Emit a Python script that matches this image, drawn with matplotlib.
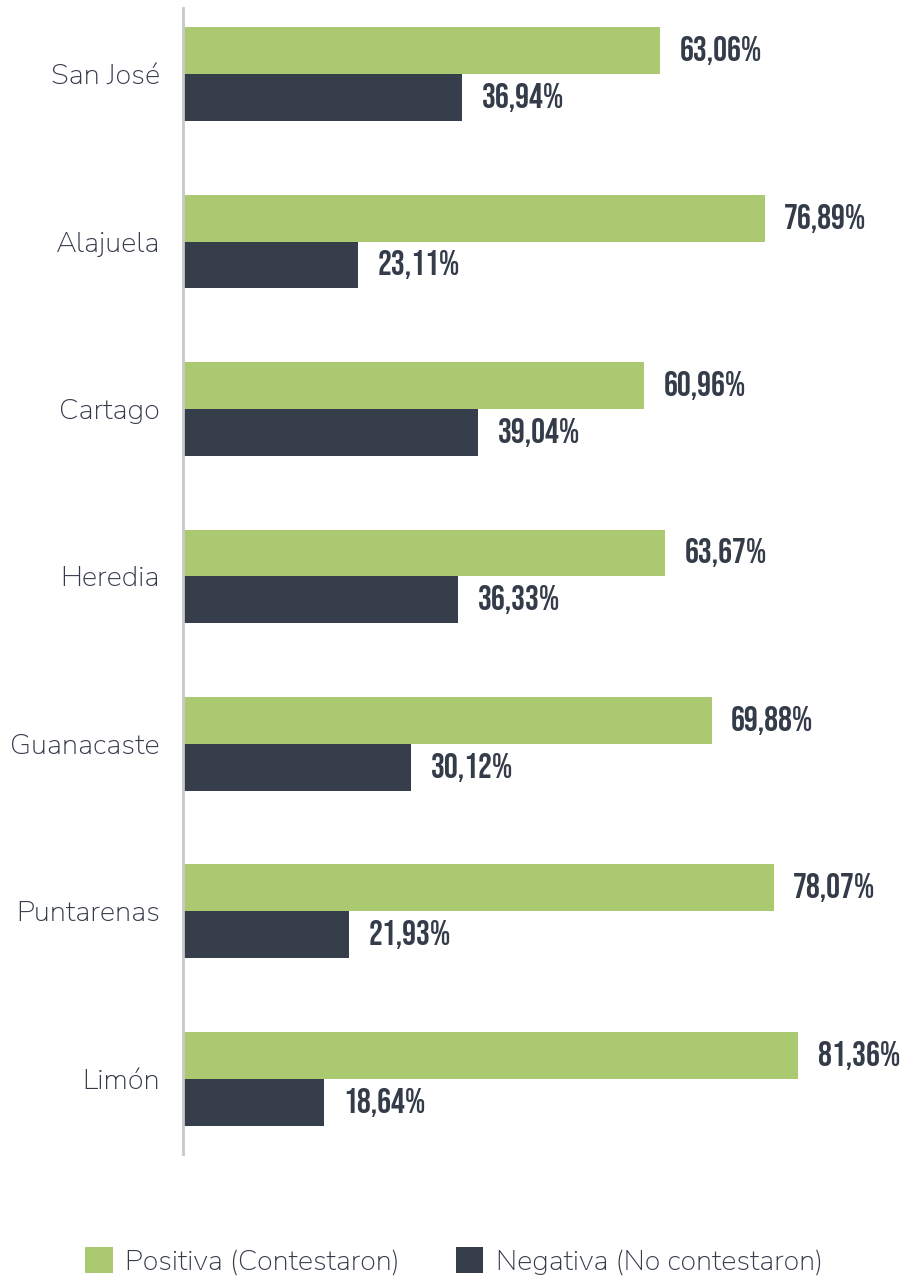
import matplotlib
matplotlib.use("Agg")
import matplotlib.pyplot as plt
from matplotlib.patches import Patch
import numpy as np

categories = ["San José", "Alajuela", "Cartago", "Heredia", "Guanacaste", "Puntarenas", "Limón"]
positiva = [63.06, 76.89, 60.96, 63.67, 69.88, 78.07, 81.36]
negativa = [36.94, 23.11, 39.04, 36.33, 30.12, 21.93, 18.64]
series_names = ["Positiva (Contestaron)", "Negativa (No contestaron)"]

GREEN = "#ABC971"
DARK = "#363D4B"
TEXT = "#343B49"
LABEL_FONT = ["Nunito Sans", "DejaVu Sans"]
VALUE_FONT = ["Bebas Neue", "DejaVu Sans"]

W, H = 901, 1278
fig = plt.figure(figsize=(W / 100, H / 100), dpi=100)
ax = fig.add_axes([183 / W, 1 - 1154 / H, 1 - 183 / W, (1154 - 8) / H])

y = np.arange(len(categories))
bh = 0.28
ax.barh(y - bh / 2, positiva, height=bh, color=GREEN, label=series_names[0])
ax.barh(y + bh / 2, negativa, height=bh, color=DARK, label=series_names[1])

xmax = (W - 183) / 7.564
ax.set_xlim(0, xmax)
ax.set_ylim(6.45, -0.395)

val_font = dict(family=VALUE_FONT, fontsize=25, color=TEXT)
for i in range(len(categories)):
    ax.text(positiva[i] + 2.6, y[i] - bh / 2, f"{positiva[i]:.2f}%".replace(".", ","),
            va="center", ha="left", **val_font)
    ax.text(negativa[i] + 2.6, y[i] + bh / 2, f"{negativa[i]:.2f}%".replace(".", ","),
            va="center", ha="left", **val_font)

ax.set_yticks(y)
ax.set_yticklabels(categories, fontsize=21, color=TEXT, family=LABEL_FONT)
ax.tick_params(axis="y", length=0, pad=16.5)
ax.set_xticks([])
for s in ["top", "right", "bottom"]:
    ax.spines[s].set_visible(False)
ax.spines["left"].set_color("#C8C8C8")
ax.spines["left"].set_linewidth(2)

handles = [Patch(facecolor=GREEN, edgecolor="none"), Patch(facecolor=DARK, edgecolor="none")]
fig.legend(handles, series_names, loc="center", bbox_to_anchor=(454 / W, 1 - 1261 / H),
           ncol=2, frameon=False, handlelength=0.95, handleheight=1.0,
           handletextpad=0.42, columnspacing=1.95,
           prop={"family": LABEL_FONT, "size": 20.8})
for t in fig.legends[0].get_texts():
    t.set_color(TEXT)

fig.savefig("out.png", dpi=100)
